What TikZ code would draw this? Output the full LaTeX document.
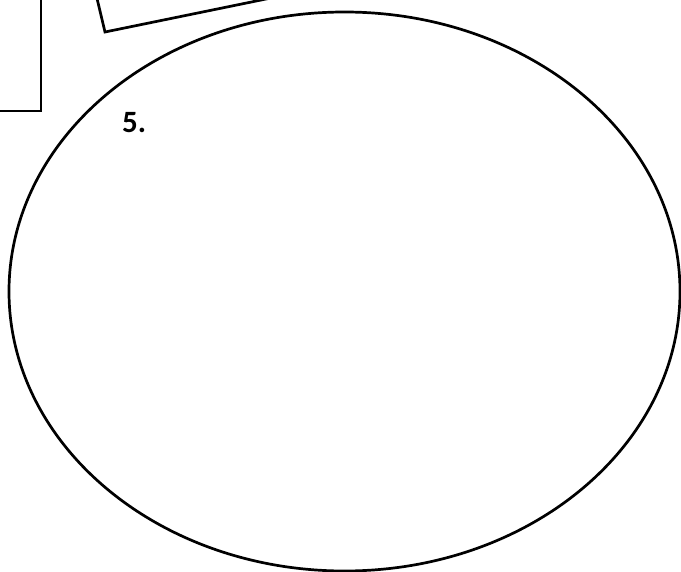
\documentclass[tikz,border=0pt]{standalone}
\usepackage{fontspec}
\setmainfont{Carlito}
\tikzset{outline/.style={draw=black, line width=2.7pt, line join=miter}}
\begin{document}
\begin{tikzpicture}[x=1pt,y=-1pt]
\useasboundingbox (0,0) rectangle (681,572);
\begin{scope}
\clip (0,0) rectangle (681,572);
% partial rectangle at top-left
\draw[outline] (-10,-10) -- (41,-10) -- (41,111) -- (-10,111);
% tilted box at top
\draw[outline] (95,-10) -- (105,32) -- (310,-10);
% large ellipse
\draw[outline] (344.5,291.5) ellipse [x radius=335.5, y radius=279.5];
\end{scope}
\node[anchor=base west, inner sep=0pt, font=\fontsize{31}{36}\selectfont\bfseries] (lbl) at (122,133) {5.};
\end{tikzpicture}
\end{document}
